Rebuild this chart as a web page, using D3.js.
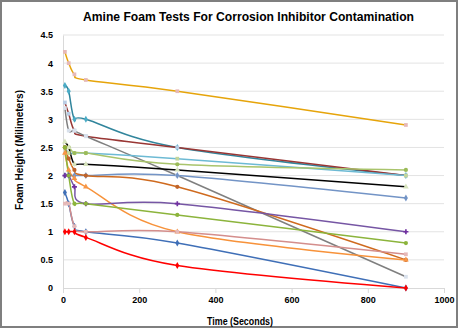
<!DOCTYPE html>
<html><head><meta charset="utf-8">
<script src="https://cdn.jsdelivr.net/npm/d3@7"></script>
<style>
html,body{margin:0;padding:0;background:#fff;}
svg{display:block;font-family:"Liberation Sans",Arial,sans-serif;}
</style></head>
<body>
<svg id="chart" width="463" height="330"></svg>
<script>
// ---- data ----
const times = [5, 15, 30, 60, 300, 900];
const xTicks = [0, 200, 400, 600, 800, 1000];
const yTicks = [0, 0.5, 1, 1.5, 2, 2.5, 3, 3.5, 4, 4.5];
const gold      = [4.2, 4.0, 3.8, 3.7, 3.5, 2.9];
const teal      = [3.6, 3.5, 3.0, 3.0, 2.5, 2.0];
const darkRed   = [3.3, 3.1, 2.8, 2.7, 2.5, 2.0];
const gray      = [3.2, 2.8, 2.8, 2.7, 2.0, 0.2];
const skyBlue   = [2.5, 2.4, 2.4, 2.4, 2.3, 2.0];
const lightGreen= [2.5, 2.5, 2.4, 2.4, 2.2, 2.1];
const black     = [2.6, 2.5, 2.2, 2.2, 2.1, 1.8];
const steelBlue = [2.0, 2.0, 2.0, 2.0, 2.0, 1.6];
const brownOrange=[2.5, 2.3, 2.1, 2.0, 1.8, 0.5];
const orange    = [2.4, 2.1, 1.95, 1.8, 1.0, 0.5];
const purple    = [2.0, 2.0, 1.8, 1.5, 1.5, 1.0];
const oliveGreen= [2.5, 2.0, 1.5, 1.5, 1.3, 0.8];
const blue      = [1.7, 1.5, 1.1, 1.0, 0.8, 0.0];
const rose      = [1.5, 1.5, 1.1, 1.0, 1.0, 0.6];
const red       = [1.0, 1.0, 1.0, 0.9, 0.4, 0.0];

const seriesList = [gold, teal, darkRed, gray, skyBlue, lightGreen, black, steelBlue,
                    brownOrange, orange, purple, oliveGreen, blue, rose, red];
// ---- styles ----
const lineColors = ["#E6A40A","#31859C","#993634","#7F7F7F","#6DBAD4","#A9C46C","#000000","#7394C6",
                    "#CF6A1E","#F7923A","#7656A4","#8CB43C","#3F6FB7","#D48E8C","#FF0000"];
const markerColors = ["#E6B9B8","#4BACC6","#B9CDE5","#D9E1EC","#C3D69B","#9BBB59","#D7E4BD","#7394C6",
                      "#C0642A","#F79646","#7030A0","#8CB43C","#3F6FB7","#E6B9B8","#FF0000"];
const markerShapes = [d3.symbolSquare,d3.symbolDiamond,d3.symbolSquare,d3.symbolSquare,d3.symbolSquare,d3.symbolCircle,
                      d3.symbolTriangle,d3.symbolDiamond,d3.symbolCircle,d3.symbolTriangle,d3.symbolCross,d3.symbolCircle,
                      d3.symbolDiamond,d3.symbolSquare,d3.symbolDiamond];

const svg = d3.select("#chart");
const plot = {left: 63, right: 444, top: 35, bottom: 288};

// border
svg.append("rect").attr("x",1).attr("y",1).attr("width",456).attr("height",326)
   .attr("fill","#fff").attr("stroke","#7F7F7F").attr("stroke-width",2);

const x = d3.scaleLinear().domain([0,1000]).range([plot.left, plot.right]);
const y = d3.scaleLinear().domain([0,4.5]).range([plot.bottom, plot.top]);

// gridlines
svg.append("g").selectAll("line").data(yTicks.filter(d=>d>0)).join("line")
  .attr("x1",plot.left).attr("x2",plot.right)
  .attr("y1",d=>y(d)).attr("y2",d=>y(d))
  .attr("stroke","#E3E3E3").attr("stroke-width",1);

// y axis
const yAxis = svg.append("g").attr("transform",`translate(${plot.left},0)`)
  .call(d3.axisLeft(y).tickValues(yTicks).tickSize(0).tickPadding(10).tickFormat(d3.format("")));
yAxis.select(".domain").attr("stroke","#D9D9D9");
yAxis.selectAll("text").attr("font-size","9px").attr("font-weight","bold").attr("fill","#000")
  .attr("font-family","'Liberation Sans',Arial,sans-serif");

// x axis
const xAxis = svg.append("g").attr("transform",`translate(0,${plot.bottom})`)
  .call(d3.axisBottom(x).tickValues(xTicks).tickSize(5).tickPadding(4).tickFormat(d3.format("")));
xAxis.select(".domain").attr("stroke","#D9D9D9");
xAxis.selectAll(".tick line").attr("stroke","#D9D9D9");
xAxis.selectAll("text").attr("font-size","9px").attr("font-weight","bold").attr("fill","#000")
  .attr("font-family","'Liberation Sans',Arial,sans-serif");

// lines
const line = d3.line().x((d,i)=>x(times[i])).y(d=>y(d)).curve(d3.curveCardinal.tension(0));
const gLines = svg.append("g");
seriesList.forEach((vals,si)=>{
  gLines.append("path").attr("d",line(vals)).attr("fill","none")
    .attr("stroke",lineColors[si]).attr("stroke-width",1.5);
});
const gMarks = svg.append("g");
seriesList.forEach((vals,si)=>{
  const sym = d3.symbol().type(markerShapes[si]).size(14);
  gMarks.selectAll(null).data(vals).join("path")
    .attr("d",sym)
    .attr("transform",(d,i)=>`translate(${x(times[i])},${y(d)})`)
    .attr("fill",markerColors[si]);
});

// titles
svg.append("text").attr("x",248.5).attr("y",20.5).attr("text-anchor","middle")
  .attr("font-size","13px").attr("font-weight","bold").attr("textLength",331).attr("lengthAdjust","spacingAndGlyphs")
  .text("Amine Foam Tests For Corrosion Inhibitor Contamination");
svg.append("text").attr("x",240).attr("y",325).attr("text-anchor","middle")
  .attr("font-size","10px").attr("font-weight","bold").attr("textLength",66).attr("lengthAdjust","spacingAndGlyphs")
  .text("Time (Seconds)");
svg.append("text").attr("transform","translate(23,150) rotate(-90)").attr("text-anchor","middle")
  .attr("font-size","10px").attr("font-weight","bold").attr("textLength",120).attr("lengthAdjust","spacingAndGlyphs")
  .text("Foam Height (Milimeters)");
</script>
</body></html>
